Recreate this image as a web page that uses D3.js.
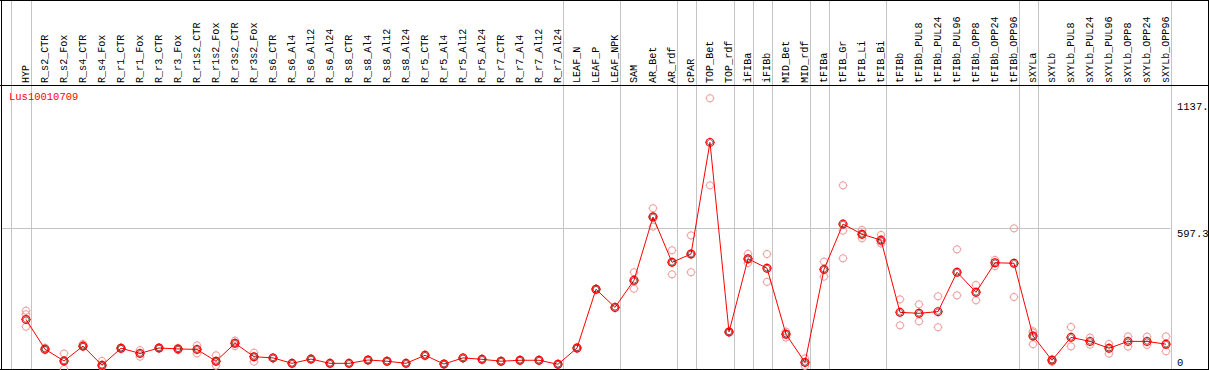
<!DOCTYPE html>
<html>
<head>
<meta charset="utf-8">
<script src="https://cdn.jsdelivr.net/npm/d3@7"></script>
<style>
  body { margin: 0; background: #fff; }
  svg text { font-family: "Liberation Mono", "DejaVu Sans Mono", monospace; font-size: 10.5px; }
</style>
</head>
<body>
<div id="chart"></div>
<script>
// sample names, left to right
let samples = ["HYP", "R_s2_CTR", "R_s2_Fox", "R_s4_CTR", "R_s4_Fox", "R_r1_CTR", "R_r1_Fox",
    "R_r3_CTR", "R_r3_Fox", "R_r1s2_CTR", "R_r1s2_Fox", "R_r3s2_CTR", "R_r3s2_Fox", "R_s6_CTR",
    "R_s6_Al4", "R_s6_Al12", "R_s6_Al24", "R_s8_CTR", "R_s8_Al4", "R_s8_Al12", "R_s8_Al24",
    "R_r5_CTR", "R_r5_Al4", "R_r5_Al12", "R_r5_Al24", "R_r7_CTR", "R_r7_Al4", "R_r7_Al12",
    "R_r7_Al24", "LEAF_N", "LEAF_P", "LEAF_NPK", "SAM", "AR_Bet", "AR_rdf", "cPAR", "TOP_Bet",
    "TOP_rdf", "iFIBa", "iFIBb", "MID_Bet", "MID_rdf", "tFIBa", "tFIB_Gr", "tFIB_Li", "tFIB_Bi",
    "tFIBb", "tFIBb_PUL8", "tFIBb_PUL24", "tFIBb_PUL96", "tFIBb_OPP8", "tFIBb_OPP24", "tFIBb_OPP96",
    "sXYLa", "sXYLb", "sXYLb_PUL8", "sXYLb_PUL24", "sXYLb_PUL96", "sXYLb_OPP8", "sXYLb_OPP24",
    "sXYLb_OPP96"];

// mean expression per sample
let means = [210, 84, 34, 97, 16, 88, 66, 89, 85, 83, 33, 109, 52, 47,
    24, 42, 24, 24, 38, 33, 24, 58, 21, 47, 41, 33, 37, 37, 20,
    89, 338, 261, 376, 644, 452, 487, 960, 157, 467, 427, 147, 28,
    422, 614, 571, 546, 240, 236, 243, 410, 325, 450, 448, 140, 37,
    134, 117, 88, 117, 117, 105];

// individual replicates per sample
let replicates = [
    [247, 232, 179], [90, 80, 83], [66, 0, 34], [106, 94, 97], [34, 10, 16], [88, 85, 91],
    [80, 52, 66], [89, 91, 87], [85, 89, 80], [100, 66, 83], [58, 14, 33], [120, 97, 109],
    [69, 31, 52], [49, 45], [26, 22], [44, 40], [26, 22], [25, 23], [40, 36], [35, 31],
    [26, 22], [61, 55], [23, 19], [49, 45], [43, 39], [35, 31], [39, 35], [39, 35], [22, 18],
    [92, 86], [341, 335], [264, 258], [410, 370, 340], [681, 603, 648], [503, 401, 452],
    [566, 410, 487], [1147, 778], [160, 154], [488, 449, 464], [487, 369], [158, 133, 150],
    [45, 13, 28], [455, 391, 422], [778, 586, 469], [589, 554, 570], [568, 532, 540],
    [295, 185], [274, 202], [308, 177], [507, 312], [356, 291], [462, 436], [596, 305],
    [154, 105, 160], [41, 30, 40], [178, 96], [133, 103], [106, 65], [138, 95], [137, 102],
    [138, 75]];

// group separators are drawn after these samples
let groupEnds = ["HYP", "R_r7_Al24", "LEAF_NPK", "AR_rdf", "cPAR", "TOP_rdf", "iFIBa", "iFIBb",
    "MID_rdf", "tFIBa", "tFIB_Bi", "tFIBb_OPP96", "sXYLa", "sXYLb_OPP96"];

let gridValues = [597.3];
let tickLabels = [{v: 1137, t: "1137."}, {v: 597.3, t: "597.3"}, {v: 0, t: "0"}];
let geneName = "Lus10010709";

let width = 1209, height = 370;
let headerBottom = 85.5, plotBottom = 369.5, plotRight = 1170.5;

let svg = d3.select("#chart").append("svg")
    .attr("width", width).attr("height", height);

let x = d3.scalePoint().domain(samples).range([26, 1166]);
let y = d3.scaleLinear().domain([0, 1137]).range([369, 100.6]);

// horizontal grid
svg.selectAll(".hgrid")
    .data(gridValues)
    .enter().append("line")
    .attr("x1", 1).attr("x2", plotRight)
    .attr("y1", d => Math.round(y(d)) + 0.5)
    .attr("y2", d => Math.round(y(d)) + 0.5)
    .attr("stroke", "#c4c4c4");

// vertical group separators
let sepX = [x(samples[0]) - 15.3].concat(groupEnds.map(s => x(s) + 4.7));
svg.selectAll(".vgrid")
    .data(sepX)
    .enter().append("line")
    .attr("x1", d => Math.round(d) + 0.5).attr("x2", d => Math.round(d) + 0.5)
    .attr("y1", 0).attr("y2", plotBottom)
    .attr("stroke", "#c4c4c4");

// frame
svg.append("line").attr("x1", 0).attr("x2", width).attr("y1", 0.5).attr("y2", 0.5).attr("stroke", "#000");
svg.append("line").attr("x1", 0).attr("x2", width).attr("y1", headerBottom).attr("y2", headerBottom).attr("stroke", "#000");
svg.append("line").attr("x1", 0).attr("x2", width).attr("y1", plotBottom).attr("y2", plotBottom).attr("stroke", "#000");
svg.append("line").attr("x1", 1.5).attr("x2", 1.5).attr("y1", 0).attr("y2", plotBottom).attr("stroke", "#000");
svg.append("line").attr("x1", 1208.5).attr("x2", 1208.5).attr("y1", 0).attr("y2", plotBottom).attr("stroke", "#000");

// sample labels
svg.selectAll(".lab")
    .data(samples)
    .enter().append("text")
    .attr("transform", d => "translate(" + (x(d) + 3) + ",83) rotate(-90) scale(0.96,1)")
    .attr("fill", "#000")
    .text(d => d);

// value labels at the right
svg.selectAll(".tick")
    .data(tickLabels)
    .enter().append("text")
    .attr("x", 1177)
    .attr("y", d => d.v === 0 ? y(d.v) - 3 : y(d.v) + 9)
    .attr("fill", "#000")
    .text(d => d.t);

svg.append("text").attr("x", 9).attr("y", 100).attr("fill", "#ff0000").text(geneName);

function marker(g, color, r, w) {
    g.append("circle").attr("r", r).attr("fill", "none").attr("stroke", color).attr("stroke-width", w);
    [[0, -1], [0, 1], [-1, 0], [1, 0]].forEach(p => {
        g.append("line")
            .attr("x1", p[0] * r).attr("y1", p[1] * r)
            .attr("x2", p[0] * (r + 1)).attr("y2", p[1] * (r + 1))
            .attr("stroke", color).attr("stroke-width", 0.8);
    });
}

// replicate points
let reps = [];
replicates.forEach((arr, i) => arr.forEach(v => reps.push({s: samples[i], v: v})));
svg.selectAll(".rep")
    .data(reps)
    .enter().append("g")
    .attr("transform", d => "translate(" + x(d.s) + "," + y(d.v) + ")")
    .each(function() { marker(d3.select(this), "#ef9a9a", 3.6, 1); });

// mean line
let line = d3.line().x((d, i) => x(samples[i])).y(d => y(d));
svg.append("path")
    .datum(means)
    .attr("d", line)
    .attr("fill", "none")
    .attr("stroke", "#ff0000")
    .attr("stroke-width", 1);

// mean points
svg.selectAll(".mean")
    .data(means)
    .enter().append("g")
    .attr("transform", (d, i) => "translate(" + x(samples[i]) + "," + y(d) + ")")
    .each(function() {
        let g = d3.select(this);
        g.append("circle").attr("r", 2.8).attr("fill", "none").attr("stroke", "#000").attr("stroke-width", 0.5);
        marker(g, "#ff0000", 3.9, 1.2);
    });
</script>
</body>
</html>
